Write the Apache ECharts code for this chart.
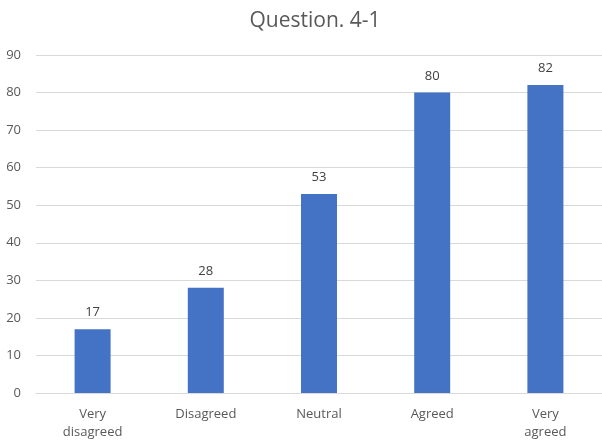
<!DOCTYPE html>
<html>
<head>
<meta charset="utf-8">
<script src="https://cdn.jsdelivr.net/npm/echarts@6/dist/echarts.min.js"></script>
<style>
html,body{margin:0;padding:0;background:#fff;}
#chart{width:602px;height:441px;}
</style>
</head>
<body>
<div id="chart"></div>
<script>
var titleText = 'Question. 4-1';
var categories = ['Very disagreed', 'Disagreed', 'Neutral', 'Agreed', 'Very agreed'];
var values = [17, 28, 53, 80, 82];
var yMin = 0, yMax = 90, yStep = 10;

var chart = echarts.init(document.getElementById('chart'));
chart.setOption({
  animation: false,
  backgroundColor: '#ffffff',
  textStyle: { fontFamily: 'Open Sans, Noto Sans, sans-serif' },
  title: {
    text: titleText,
    left: 310, top: 6, textAlign: 'center',
    textStyle: { fontSize: 21, fontWeight: 'normal', color: '#595959', fontFamily: 'Open Sans, sans-serif' }
  },
  grid: { left: 36, top: 55, width: 570, bottom: 47, containLabel: false },
  xAxis: {
    type: 'category',
    data: categories,
    axisLine: { lineStyle: { color: '#d9d9d9', width: 1 } },
    axisTick: { show: false },
    axisLabel: {
      color: '#595959', fontSize: 13, lineHeight: 18, margin: 12, interval: 0,
      formatter: function (v) { return v.replace(' ', '\n'); }
    }
  },
  yAxis: {
    type: 'value', min: yMin, max: yMax, interval: yStep,
    axisLine: { show: false }, axisTick: { show: false },
    axisLabel: { color: '#595959', fontSize: 13, margin: 15 },
    splitLine: { lineStyle: { color: '#d9d9d9', width: 1 } }
  },
  series: [{
    type: 'bar',
    data: values,
    barWidth: 36,
    itemStyle: { color: '#4472c4' },
    label: { show: true, position: 'top', distance: 10, color: '#404040', fontSize: 13 }
  }]
});
</script>
</body>
</html>
